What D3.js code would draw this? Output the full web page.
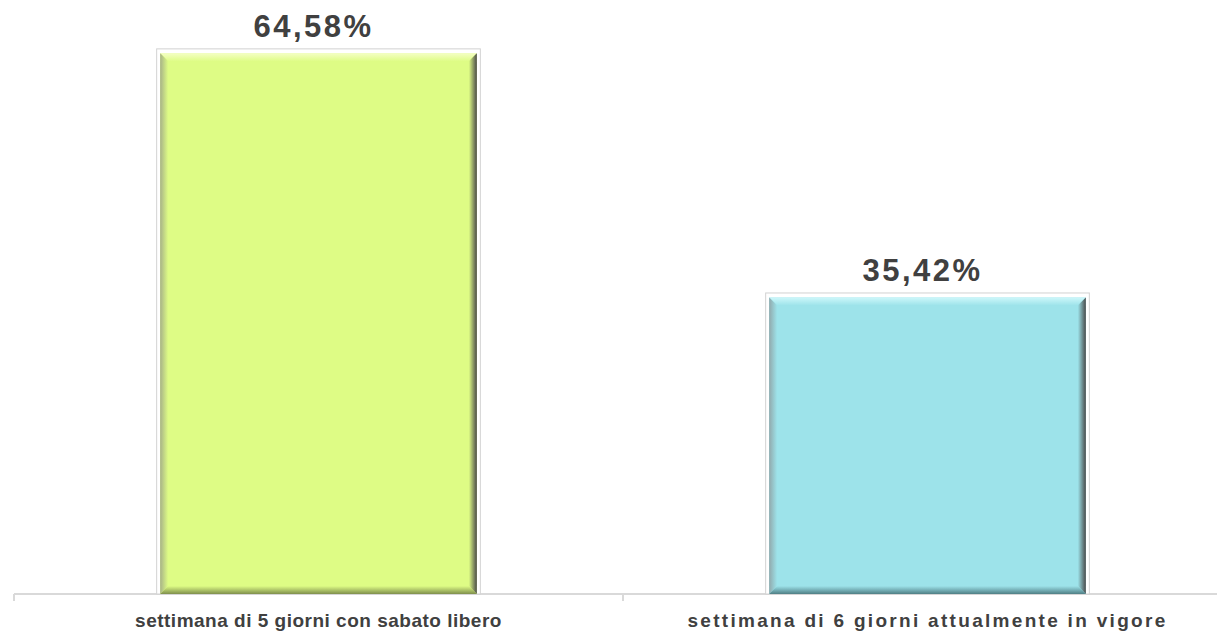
<!DOCTYPE html>
<html>
<head>
<meta charset="utf-8">
<script src="https://cdn.jsdelivr.net/npm/d3@7"></script>
<style>
  body { margin: 0; background: #fff; }
  svg { display: block; font-family: "Liberation Sans", Arial, sans-serif; }
</style>
</head>
<body>
<div id="chart-area"></div>
<script>
const categories = ["settimana di 5 giorni con sabato libero", "settimana di 6 giorni attualmente in vigore"];
const values = [64.58, 35.42];
const valueLabels = ["64,58%", "35,42%"];
const barColors = ["#defc85", "#9de3ea"];
const topColors = ["#f4ffc4", "#cdf7fa"];
const bottomColors = ["#7f8f4c", "#4f7f85"];

const width = 1217;
const height = 633;
const axisY = 594;

const svg = d3.select("#chart-area")
  .append("svg")
    .attr("width", width)
    .attr("height", height);

const x = d3.scaleBand()
  .domain(categories)
  .range([14, 1232])
  .paddingInner(0.48)
  .paddingOuter(0.24);

const y = d3.scaleLinear()
  .domain([0, 70])
  .range([axisY, 8]);

const defs = svg.append("defs");
const b = 8;

function grad(id, x2, y2, c1, c2) {
  const gr = defs.append("linearGradient")
    .attr("id", id)
    .attr("x1", 0).attr("y1", 0)
    .attr("x2", x2).attr("y2", y2);
  gr.append("stop").attr("offset", "0%").attr("stop-color", c1);
  gr.append("stop").attr("offset", "100%").attr("stop-color", c2);
}

barColors.forEach((c, i) => {
  grad(`top${i}`, 0, 1, topColors[i], c);
  grad(`left${i}`, 1, 0, d3.interpolateRgb("#8a8a8a", c)(0.35), c);
  grad(`right${i}`, 1, 0, c, "#4a4a4a");
  grad(`bottom${i}`, 0, 1, c, bottomColors[i]);
});

const data = categories.map((cat, i) => ({ cat, value: values[i], label: valueLabels[i], i }));

// axis line + ticks
svg.append("line")
  .attr("x1", 14).attr("x2", width)
  .attr("y1", axisY).attr("y2", axisY)
  .attr("stroke", "#d9d9d9")
  .attr("stroke-width", 2);

[14, 14 + x.step(), 14 + 2 * x.step()].forEach(t => {
  svg.append("line")
    .attr("x1", t).attr("x2", t)
    .attr("y1", axisY).attr("y2", axisY + 7)
    .attr("stroke", "#d9d9d9")
    .attr("stroke-width", 2);
});

const bars = svg.selectAll("g.bar")
  .data(data)
  .enter()
  .append("g")
    .attr("class", "bar");

// outer frame
bars.append("rect")
  .attr("x", d => x(d.cat) - 3.5)
  .attr("y", d => y(d.value) - 4.5)
  .attr("width", x.bandwidth() + 7)
  .attr("height", d => axisY - y(d.value) + 4.5)
  .attr("fill", "#fff")
  .attr("stroke", "#d2d2d2")
  .attr("stroke-width", 1);

bars.append("rect")
  .attr("x", d => x(d.cat))
  .attr("y", d => y(d.value))
  .attr("width", x.bandwidth())
  .attr("height", d => axisY - y(d.value))
  .attr("fill", d => barColors[d.i]);

function poly(d, side) {
  const x0 = x(d.cat), x1 = x0 + x.bandwidth();
  const y0 = y(d.value), y1 = axisY;
  if (side === "top") return [[x0, y0], [x1, y0], [x1 - b, y0 + b], [x0 + b, y0 + b]];
  if (side === "left") return [[x0, y0], [x0 + b, y0 + b], [x0 + b, y1 - b], [x0, y1]];
  if (side === "right") return [[x1, y0], [x1, y1], [x1 - b, y1 - b], [x1 - b, y0 + b]];
  return [[x0, y1], [x0 + b, y1 - b], [x1 - b, y1 - b], [x1, y1]];
}

["top", "left", "right", "bottom"].forEach(side => {
  bars.append("polygon")
    .attr("points", d => poly(d, side).map(p => p.join(",")).join(" "))
    .attr("fill", d => `url(#${side}${d.i})`);
});

// value labels
bars.append("text")
  .attr("x", d => x(d.cat) + x.bandwidth() / 2 - 5)
  .attr("y", d => y(d.value) - 16)
  .attr("text-anchor", "middle")
  .attr("font-size", "31px")
  .attr("font-weight", "bold")
  .attr("letter-spacing", "2.5px")
  .attr("fill", "#404040")
  .text(d => d.label);

// category labels (the second one is rendered more loosely spaced in the original)
const labelSpacing = [0.5, 2.3];
bars.append("text")
  .attr("x", d => x(d.cat) + x.bandwidth() / 2)
  .attr("y", 627)
  .attr("text-anchor", "middle")
  .attr("font-size", "19px")
  .attr("font-weight", "bold")
  .attr("letter-spacing", d => labelSpacing[d.i] + "px")
  .attr("fill", "#404040")
  .text(d => d.cat);
</script>
</body>
</html>
